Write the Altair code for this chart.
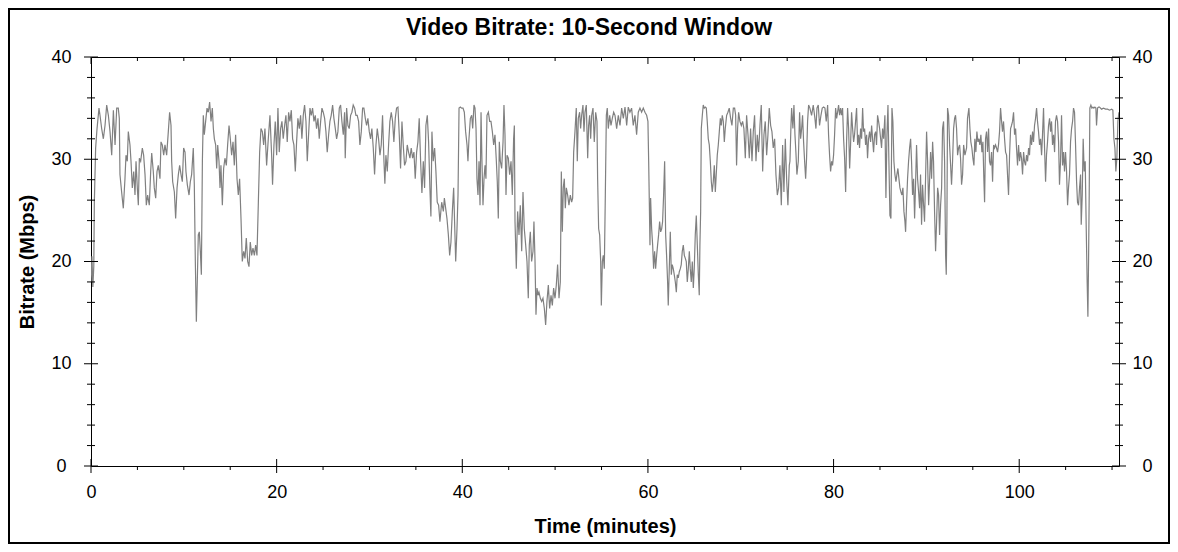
import altair as alt
import pandas as pd

TITLE = "Video Bitrate: 10-Second Window"
X_TITLE = "Time (minutes)"
Y_TITLE = "Bitrate (Mbps)"

# (minute, Mbps) samples, in six stretches
seg1 = [(0.0,18.0),(0.1,20.5),(0.2,17.5),(0.3,19.5),(0.36,25.8),(0.5,31.1),(0.65,33.0),(0.86,35.0),(0.97,34.3),(1.15,33.0),(1.33,32.0),(1.51,33.3),(1.69,35.3),(1.87,34.3),(2.05,32.7),(2.23,30.4),(2.41,34.8),(2.59,31.4),(2.77,35.0),(2.94,35.0),(3.05,34.0),(3.12,28.5),(3.30,26.8),(3.48,25.2),(3.66,28.1),(3.77,30.4),(3.91,29.8),(4.02,32.7),(4.20,31.4),(4.31,29.8),(4.45,27.2),(4.60,28.8),(4.74,26.5),(4.85,29.8),(4.99,27.2),(5.10,25.5),(5.21,30.1),(5.35,29.8),(5.53,31.1),(5.67,30.4),(5.82,28.5),(5.96,25.5),(6.10,26.5),(6.28,25.5),(6.43,28.8),(6.54,30.6),(6.71,28.8),(6.82,27.2),(6.97,26.2),(7.11,28.8),(7.25,29.4),(7.43,28.1),(7.54,31.7),(7.68,31.4),(7.83,30.4),(7.97,31.4),(8.15,30.4),(8.33,32.7),(8.47,34.6),(8.62,33.3),(8.69,29.8),(8.80,27.8),(8.98,26.8),(9.12,24.2),(9.27,27.2),(9.41,28.5),(9.55,29.4),(9.70,28.5),(9.84,27.8),(9.98,31.1),(10.13,30.7),(10.23,28.8),(10.38,27.5),(10.56,26.5),(10.70,27.8),(10.84,28.5),(11.02,31.1),(11.13,27.5),(11.24,20.0),(11.35,14.1),(11.46,18.4),(11.56,22.6),(11.67,22.9),(11.78,21.0),(11.89,18.7),(12.0,29.8),(12.1,34.3),(12.21,32.4),(12.35,33.7),(12.50,35.0),(12.64,34.6),(12.78,35.6),(12.93,33.7),(13.07,35.0),(13.18,33.0),(13.29,32.0),(13.43,31.4),(13.54,29.1),(13.65,31.4),(13.79,29.8),(13.90,27.2),(14.0,29.4),(14.15,25.5),(14.29,29.1),(14.43,30.1),(14.58,29.4),(14.72,31.4),(14.87,33.3),(15.01,32.0),(15.15,30.4),(15.30,31.7),(15.44,29.4),(15.58,32.4),(15.73,28.1),(15.87,26.5),(16.01,28.1),(16.16,24.2),(16.30,20.0),(16.45,21.0),(16.59,20.3),(16.73,22.3),(16.88,20.0),(17.02,19.5),(17.16,21.9),(17.31,20.6),(17.45,21.3),(17.60,20.6),(17.74,21.6),(17.88,20.6),(18.03,25.8),(18.17,30.7),(18.31,33.0),(18.46,32.7),(18.60,31.4),(18.74,33.0)]

seg2 = [(18.92,29.4),(19.10,32.0),(19.28,34.3),(19.46,30.4),(19.56,27.5),(19.71,31.4),(19.85,33.7),(20.0,30.4),(20.14,35.0),(20.28,30.7),(20.43,33.0),(20.57,33.7),(20.71,32.0),(20.86,33.3),(21.0,34.3),(21.14,31.7),(21.29,34.6),(21.43,33.7),(21.58,34.8),(21.72,32.0),(21.86,31.4),(22.01,28.8),(22.15,31.7),(22.29,34.0),(22.44,33.0),(22.58,34.3),(22.72,32.0),(22.87,34.3),(23.01,35.3),(23.16,33.7),(23.30,29.8),(23.44,32.4),(23.59,35.0),(23.73,34.3),(23.87,35.0),(24.02,33.7),(24.16,34.3),(24.30,33.0),(24.45,34.0),(24.59,32.0),(24.74,33.7),(24.88,35.0),(25.02,34.6),(25.17,34.0),(25.31,32.7),(25.45,30.7),(25.60,32.4),(25.74,33.7),(25.88,34.3),(26.03,35.3),(26.17,34.0),(26.32,33.0),(26.46,32.0),(26.60,32.7),(26.75,35.0),(26.89,35.3),(27.03,33.7),(27.18,32.4),(27.32,34.6),(27.39,30.1),(27.54,35.0),(27.68,33.3),(27.82,33.0),(27.97,34.3),(28.11,34.6),(28.25,35.3),(28.40,35.0),(28.54,34.3),(28.68,34.3),(28.83,33.7),(28.97,31.4),(29.12,32.7),(29.26,35.0),(29.40,35.0),(29.55,34.0),(29.69,33.3),(29.83,34.0),(29.98,32.7),(30.12,32.0),(30.26,33.0),(30.41,31.1),(30.55,28.5),(30.70,31.4),(30.84,33.0),(30.98,32.0),(31.13,30.4),(31.27,31.4),(31.41,34.3),(31.56,29.8),(31.66,27.6),(31.77,30.4),(31.92,28.8),(32.06,31.4),(32.20,33.7),(32.35,34.6),(32.49,33.7),(32.63,31.7),(32.78,34.0),(32.92,35.0),(33.07,35.1),(33.21,32.4),(33.35,29.1),(33.50,33.7),(33.64,31.4),(33.78,29.4),(33.93,29.8),(34.07,31.4),(34.21,30.7),(34.36,30.1),(34.50,31.1),(34.65,30.1),(34.79,30.7),(34.93,28.1),(35.08,30.7),(35.22,31.7),(35.36,34.0),(35.51,29.8),(35.65,26.7),(35.80,29.8),(35.94,27.2),(36.08,33.3),(36.23,34.3),(36.37,31.7),(36.51,27.2),(36.62,24.4),(36.73,32.7),(36.87,29.8),(37.02,31.1),(37.16,28.8),(37.30,25.8),(37.45,25.5),(37.59,23.9)]

seg3 = [(37.78,25.8),(37.96,24.9),(38.07,26.2),(38.21,25.2),(38.35,24.2),(38.50,22.6),(38.64,20.6),(38.78,21.9),(38.93,24.9),(39.07,27.2),(39.21,22.6),(39.29,20.0),(39.43,23.2),(39.54,26.5),(39.65,35.0),(39.79,35.1),(39.93,35.0),(40.08,35.0),(40.22,34.6),(40.36,32.7),(40.51,31.4),(40.61,29.8),(40.72,32.0),(40.87,34.0),(41.01,34.3),(41.12,33.0),(41.26,35.3),(41.37,35.0),(41.48,33.0),(41.58,28.1),(41.69,26.5),(41.80,29.8),(41.91,25.5),(42.02,34.6),(42.12,29.8),(42.23,25.5),(42.34,28.1),(42.45,29.4),(42.55,28.1),(42.66,34.3),(42.81,34.6),(42.95,33.7),(43.09,33.7),(43.24,32.7),(43.38,31.4),(43.52,32.4),(43.67,29.8),(43.77,27.8),(43.88,24.2),(43.99,31.7),(44.10,29.8),(44.24,29.1),(44.39,31.7),(44.49,35.3),(44.60,32.4),(44.71,26.5),(44.82,30.4),(44.96,30.1),(45.10,28.5),(45.25,29.8),(45.39,26.5),(45.53,32.0),(45.61,33.3),(45.68,23.9),(45.82,19.3),(45.96,24.9),(46.11,22.6),(46.25,25.5),(46.40,21.0),(46.54,26.8),(46.68,23.2),(46.83,21.6),(46.97,20.0),(47.11,16.4),(47.22,21.6),(47.33,22.9),(47.47,20.0),(47.62,21.0),(47.72,23.9),(47.83,20.3),(47.94,14.8),(48.05,17.4),(48.16,16.7),(48.26,17.0),(48.41,16.4),(48.55,16.1),(48.69,16.4),(48.84,15.4),(48.98,13.8),(49.12,16.1),(49.27,17.7),(49.41,15.4),(49.56,16.7),(49.70,15.7),(49.84,17.4),(49.99,16.4),(50.13,17.7),(50.27,19.7),(50.42,16.4),(50.56,18.0),(50.67,28.8),(50.78,22.9),(50.88,27.2),(50.99,28.1),(51.10,25.2),(51.21,27.2),(51.35,26.5),(51.49,25.5),(51.64,26.5),(51.78,25.8),(51.89,26.2),(52.00,30.7),(52.14,32.7),(52.28,35.0),(52.39,29.8),(52.50,34.0),(52.64,34.6),(52.75,33.0),(52.86,34.3),(53.00,35.3),(53.11,32.7),(53.22,34.6),(53.36,35.3),(53.51,30.1),(53.61,33.3),(53.72,34.3),(53.83,32.0),(53.94,34.3),(54.08,35.0),(54.22,31.7),(54.37,34.6),(54.51,33.7),(54.58,28.1),(54.69,23.2),(54.80,22.6),(54.91,20.0),(54.98,15.7),(55.09,20.0),(55.19,20.6),(55.30,19.3),(55.41,26.5),(55.52,34.3),(55.62,35.0),(55.73,33.0),(55.88,34.3),(56.02,33.3),(56.16,34.0),(56.31,34.6),(56.45,34.3)]

seg4 = [(56.63,33.0),(56.81,34.3),(56.99,33.3),(57.17,35.0),(57.35,34.0),(57.53,35.1),(57.71,33.3),(57.88,35.1),(58.06,34.6),(58.24,35.0),(58.42,33.3),(58.60,34.3),(58.78,32.4),(58.96,34.6),(59.14,35.0),(59.32,34.6),(59.50,35.0),(59.68,34.6),(59.86,34.3),(60.00,33.7),(60.08,29.8),(60.15,25.8),(60.22,21.6),(60.29,26.2),(60.40,23.2),(60.51,21.6),(60.61,19.3),(60.72,21.0),(60.83,19.3),(60.94,20.6),(61.04,21.6),(61.15,22.6),(61.26,23.9),(61.37,22.9),(61.48,23.2),(61.58,23.9),(61.69,26.5),(61.80,29.8),(61.91,22.6),(62.01,20.6),(62.12,18.0),(62.19,15.7),(62.30,19.3),(62.41,22.9),(62.52,18.7),(62.62,19.7),(62.73,19.3),(62.84,18.7),(62.95,18.0),(63.06,17.0),(63.16,18.7),(63.27,18.4),(63.38,19.0),(63.49,19.3),(63.59,19.7),(63.70,21.0),(63.81,21.6),(63.92,20.6),(64.03,20.3),(64.13,20.0),(64.24,18.0),(64.35,19.3),(64.46,21.0),(64.56,19.3),(64.67,18.0),(64.78,20.0),(64.89,17.4),(64.99,19.3),(65.10,22.6),(65.21,24.5),(65.32,21.6),(65.43,18.7),(65.53,16.7),(65.60,21.6),(65.68,24.9),(65.75,33.0),(65.86,34.3),(65.96,35.3),(66.07,35.0),(66.18,35.1),(66.29,35.0),(66.39,33.7),(66.50,32.0),(66.61,31.4),(66.72,29.8),(66.83,27.8),(66.93,26.8),(67.04,27.8),(67.15,29.4),(67.26,26.8),(67.36,28.5),(67.47,30.4),(67.58,31.4),(67.69,32.7),(67.80,34.0),(67.90,33.3),(68.01,34.3),(68.12,33.7),(68.23,31.7),(68.33,33.0),(68.48,34.3),(68.62,34.6),(68.76,35.0),(68.91,34.0),(69.05,33.3),(69.20,35.0),(69.34,35.0),(69.45,34.3),(69.55,29.4),(69.66,33.0),(69.77,34.6),(69.91,33.7),(70.06,33.3),(70.20,33.7),(70.34,33.0),(70.49,30.1),(70.63,34.3),(70.78,32.4),(70.92,30.1),(71.06,33.0),(71.21,29.8),(71.35,32.7),(71.49,34.3),(71.64,29.8),(71.78,32.4),(71.92,30.7),(72.07,33.3),(72.21,35.3),(72.36,28.8),(72.50,32.4),(72.64,33.7),(72.79,30.4),(72.93,32.4),(73.07,35.0),(73.22,33.3),(73.36,32.7),(73.50,31.1),(73.65,32.0),(73.79,28.5),(73.94,26.5),(74.08,27.2),(74.22,29.4),(74.37,25.5),(74.51,31.4),(74.65,26.8),(74.80,32.0),(74.94,28.1),(75.08,25.5),(75.23,29.4)]

seg5 = [(75.30,29.8),(75.41,33.3),(75.48,35.0),(75.62,33.0),(75.73,35.3),(75.84,32.4),(75.94,30.7),(76.05,28.5),(76.20,29.8),(76.34,34.6),(76.45,32.0),(76.56,33.0),(76.66,34.3),(76.77,31.7),(76.88,29.8),(76.99,28.1),(77.09,30.1),(77.20,33.7),(77.31,35.3),(77.45,35.0),(77.63,34.3),(77.81,35.3),(77.99,34.0),(78.10,33.0),(78.21,35.0),(78.35,35.3),(78.49,33.3),(78.64,34.3),(78.78,35.0),(78.93,35.1),(79.07,35.0),(79.21,33.7),(79.36,35.3),(79.46,32.4),(79.57,30.4),(79.68,28.8),(79.79,29.8),(79.89,29.4),(80.00,30.4),(80.11,32.4),(80.22,35.0),(80.33,34.0),(80.43,34.6),(80.54,35.3),(80.65,34.3),(80.76,35.0),(80.86,34.3),(80.97,35.0),(81.08,32.0),(81.19,30.1),(81.30,26.8),(81.40,31.7),(81.51,35.0),(81.62,33.0),(81.73,29.1),(81.83,31.4),(81.94,34.6),(82.05,33.0),(82.16,31.7),(82.26,32.4),(82.37,33.7),(82.48,35.0),(82.59,31.4),(82.70,32.4),(82.80,31.1),(82.91,33.0),(83.02,32.0),(83.13,35.0),(83.23,32.7),(83.34,33.0),(83.45,31.4),(83.56,32.4),(83.66,30.1),(83.77,32.0),(83.88,32.7),(83.99,31.7),(84.10,33.3),(84.20,32.0),(84.31,30.7),(84.42,32.4),(84.53,32.7),(84.63,31.4),(84.74,34.3),(84.85,33.7),(84.96,33.0),(85.07,32.0),(85.17,31.1),(85.28,33.0),(85.39,32.0),(85.53,34.3),(85.64,26.2),(85.75,32.4),(85.86,35.3),(85.96,29.8),(86.07,24.5),(86.18,24.2),(86.29,35.0),(86.39,33.7),(86.50,29.8),(86.61,28.5),(86.72,27.8),(86.82,28.5),(86.93,29.1),(87.04,28.1),(87.15,27.2),(87.26,26.8),(87.36,26.5),(87.47,27.2),(87.58,24.9),(87.69,23.9),(87.76,22.9),(87.87,25.8),(87.97,28.1),(88.08,29.8),(88.19,31.1),(88.30,32.0),(88.40,29.8),(88.51,26.5),(88.62,28.1),(88.73,24.2),(88.84,27.8),(88.94,31.4),(89.05,28.1),(89.16,26.8),(89.27,25.2),(89.37,28.5),(89.48,23.6),(89.59,27.5),(89.70,25.5),(89.80,23.9),(89.91,28.1),(90.02,32.7),(90.13,29.8),(90.24,25.5),(90.34,27.8),(90.45,30.7),(90.56,28.1),(90.67,31.7),(90.77,29.8),(90.88,24.9),(90.99,21.0),(91.10,23.9),(91.21,27.2),(91.31,26.5),(91.42,22.6),(91.53,25.5),(91.64,27.2),(91.74,33.0),(91.85,33.7),(91.96,29.8),(92.07,20.6),(92.14,18.7),(92.21,23.9),(92.28,35.0),(92.39,34.3),(92.50,31.4),(92.61,29.4),(92.71,27.5),(92.82,29.8),(92.93,33.0),(93.04,34.0),(93.14,34.3),(93.25,33.0),(93.36,30.4),(93.47,31.1),(93.58,31.4),(93.68,30.1),(93.79,27.5),(93.90,28.5),(94.01,31.4),(94.15,30.4)]

seg6 = [(94.33,31.1),(94.43,34.0),(94.58,35.0),(94.69,33.0),(94.79,31.7),(94.90,31.1),(95.01,30.1),(95.12,29.4),(95.22,32.0),(95.33,30.7),(95.44,32.7),(95.55,31.7),(95.66,32.0),(95.76,31.4),(95.87,32.4),(95.98,30.7),(96.09,31.7),(96.19,28.1),(96.27,25.8),(96.37,32.0),(96.48,32.7),(96.59,30.7),(96.70,33.0),(96.80,29.8),(96.91,29.4),(97.02,30.7),(97.13,27.8),(97.24,31.4),(97.34,31.1),(97.45,31.4),(97.56,31.1),(97.67,30.7),(97.77,31.4),(97.88,32.7),(97.99,35.0),(98.10,33.7),(98.20,32.7),(98.31,33.7),(98.42,32.0),(98.53,30.7),(98.64,30.4),(98.74,28.5),(98.85,26.5),(98.96,30.4),(99.07,33.0),(99.17,33.3),(99.28,33.7),(99.39,34.6),(99.50,32.4),(99.61,33.0),(99.71,31.1),(99.82,29.4),(99.93,31.4),(100.04,29.8),(100.14,30.7),(100.25,30.1),(100.36,28.5),(100.47,30.7),(100.57,29.8),(100.68,29.4),(100.79,30.4),(100.90,29.8),(101.01,31.1),(101.11,30.4),(101.22,32.4),(101.33,31.4),(101.44,32.7),(101.54,31.7),(101.65,33.3),(101.76,34.0),(101.87,35.0),(101.97,33.7),(102.08,32.7),(102.19,31.4),(102.30,32.0),(102.41,30.4),(102.51,32.4),(102.62,35.0),(102.73,31.1),(102.84,27.8),(102.94,30.4),(103.05,31.7),(103.16,33.3),(103.27,34.0),(103.38,32.7),(103.48,33.7),(103.59,31.4),(103.70,32.4),(103.81,30.7),(103.91,33.7),(104.02,34.3),(104.13,33.7),(104.24,31.7),(104.34,27.5),(104.45,29.8),(104.56,34.3),(104.67,29.4),(104.78,30.7),(104.88,28.8),(104.99,30.7),(105.10,28.8),(105.21,25.5),(105.31,27.2),(105.42,28.5),(105.53,31.7),(105.64,33.0),(105.75,33.7),(105.85,35.0),(105.96,34.6),(106.07,31.4),(106.18,27.8),(106.28,25.8),(106.39,25.5),(106.50,27.2),(106.61,28.5),(106.68,23.6),(106.79,26.5),(106.89,32.0),(107.00,28.8),(107.11,29.8),(107.22,23.2),(107.32,18.0),(107.40,14.6),(107.47,20.0),(107.54,26.5),(107.61,35.0),(107.72,35.3),(107.83,35.0),(107.94,35.1),(108.04,35.0),(108.15,35.1),(108.26,35.0),(108.33,33.3),(108.44,35.0),(108.55,35.1),(108.65,35.1),(108.87,34.9),(109.08,35.0),(109.30,34.9),(109.52,34.9),(109.73,34.8),(109.95,34.9),(110.09,34.8),(110.20,32.0),(110.31,31.1),(110.41,28.8),(110.52,30.1),(110.63,33.7),(110.74,34.6)]

x_major = [0, 20, 40, 60, 80, 100]
x_minor = [5, 10, 15, 25, 30, 35, 45, 50, 55, 65, 70, 75, 85, 90, 95, 105, 110]
y_major = [0, 10, 20, 30, 40]
y_minor = [2, 4, 6, 8, 12, 14, 16, 18, 22, 24, 26, 28, 32, 34, 36, 38]
x_max = 110.75
y_max = 40

FONT = "Liberation Sans"
W, H = 1028, 409

rows = seg1 + seg2 + seg3 + seg4 + seg5 + seg6
df = pd.DataFrame(rows, columns=["t", "v"])

xs = alt.Scale(domain=[0, x_max], nice=False, zero=False)
ys = alt.Scale(domain=[0, y_max], nice=False)

line = alt.Chart(df).mark_line(color="#808080", strokeWidth=1.2, clip=True).encode(
    x=alt.X("t:Q", scale=xs, axis=alt.Axis(
        orient="bottom", values=x_major, format="d", ticks=False, domain=False, grid=False,
        labelFontSize=18, labelPadding=17, labelFlush=False, labelColor="black",
        labelFont=FONT, title=X_TITLE, titleFont=FONT, titleFontSize=20,
        titleFontWeight="bold", titleColor="black", titleX=W / 2, titleY=50,
        titleBaseline="top", titleAlign="center")),
    y=alt.Y("v:Q", scale=ys, axis=alt.Axis(
        orient="left", values=y_major, format="d", ticks=False, domain=False,
        grid=False, labelFontSize=18, labelPadding=30, labelAlign="center",
        labelBaseline="middle", labelColor="black", labelFont=FONT,
        title=Y_TITLE, titleFont=FONT, titleFontSize=20, titleFontWeight="bold",
        titleColor="black", titleX=-64, titleY=H / 2, titleAngle=270,
        titleBaseline="middle", titleAlign="center")),
)


def xrules(vals, y1, y2):
    return alt.Chart(pd.DataFrame({"t": vals})).mark_rule(color="black", strokeWidth=1).encode(
        x=alt.X("t:Q", scale=xs, axis=None), y=alt.value(y1), y2=alt.value(y2))


def yrules(vals, x1, x2, axis=None):
    return alt.Chart(pd.DataFrame({"v": vals})).mark_rule(color="black", strokeWidth=1).encode(
        y=alt.Y("v:Q", scale=ys, axis=axis), x=alt.value(x1), x2=alt.value(x2))


right_axis = alt.Axis(
    orient="right", values=y_major, format="d", ticks=False, domain=False, grid=False,
    labelFontSize=18, labelPadding=33, labelAlign="right", labelBaseline="middle",
    labelColor="black", labelFont=FONT, title="")

layers = [
    xrules(x_major, H - 7, H + 7),
    xrules(x_minor, H, H + 4),
    xrules(x_major, 0, 7),
    xrules(x_minor, 0, 4),
    yrules(y_major, -7, 7),
    yrules(y_minor, -4, 4),
    yrules(y_major, W - 7, W + 7, right_axis),
    yrules(y_minor, W - 4, W + 4),
]

one = alt.Data(values=[{"k": 1}])
title_mark = alt.Chart(one).mark_text(
    font=FONT, fontSize=23, fontWeight="bold", color="black",
    align="center", baseline="alphabetic").encode(
    x=alt.value(498), y=alt.value(-22), text=alt.value(TITLE))

frame = alt.Chart(one).mark_rect(fillOpacity=0, stroke="black", strokeWidth=2).encode(
    x=alt.value(-82), x2=alt.value(1078), y=alt.value(-48), y2=alt.value(486))

chart = alt.layer(line, *layers, title_mark, frame).resolve_axis(
    x="independent", y="independent").properties(
    width=W, height=H,
    padding={"left": 83, "top": 49, "right": 51, "bottom": 78},
    autosize=alt.AutoSizeParams(type="none"),
    background="white",
).configure_view(stroke="black", strokeWidth=1)

chart.save("out.html", embed_options={"renderer": "svg", "actions": False})
